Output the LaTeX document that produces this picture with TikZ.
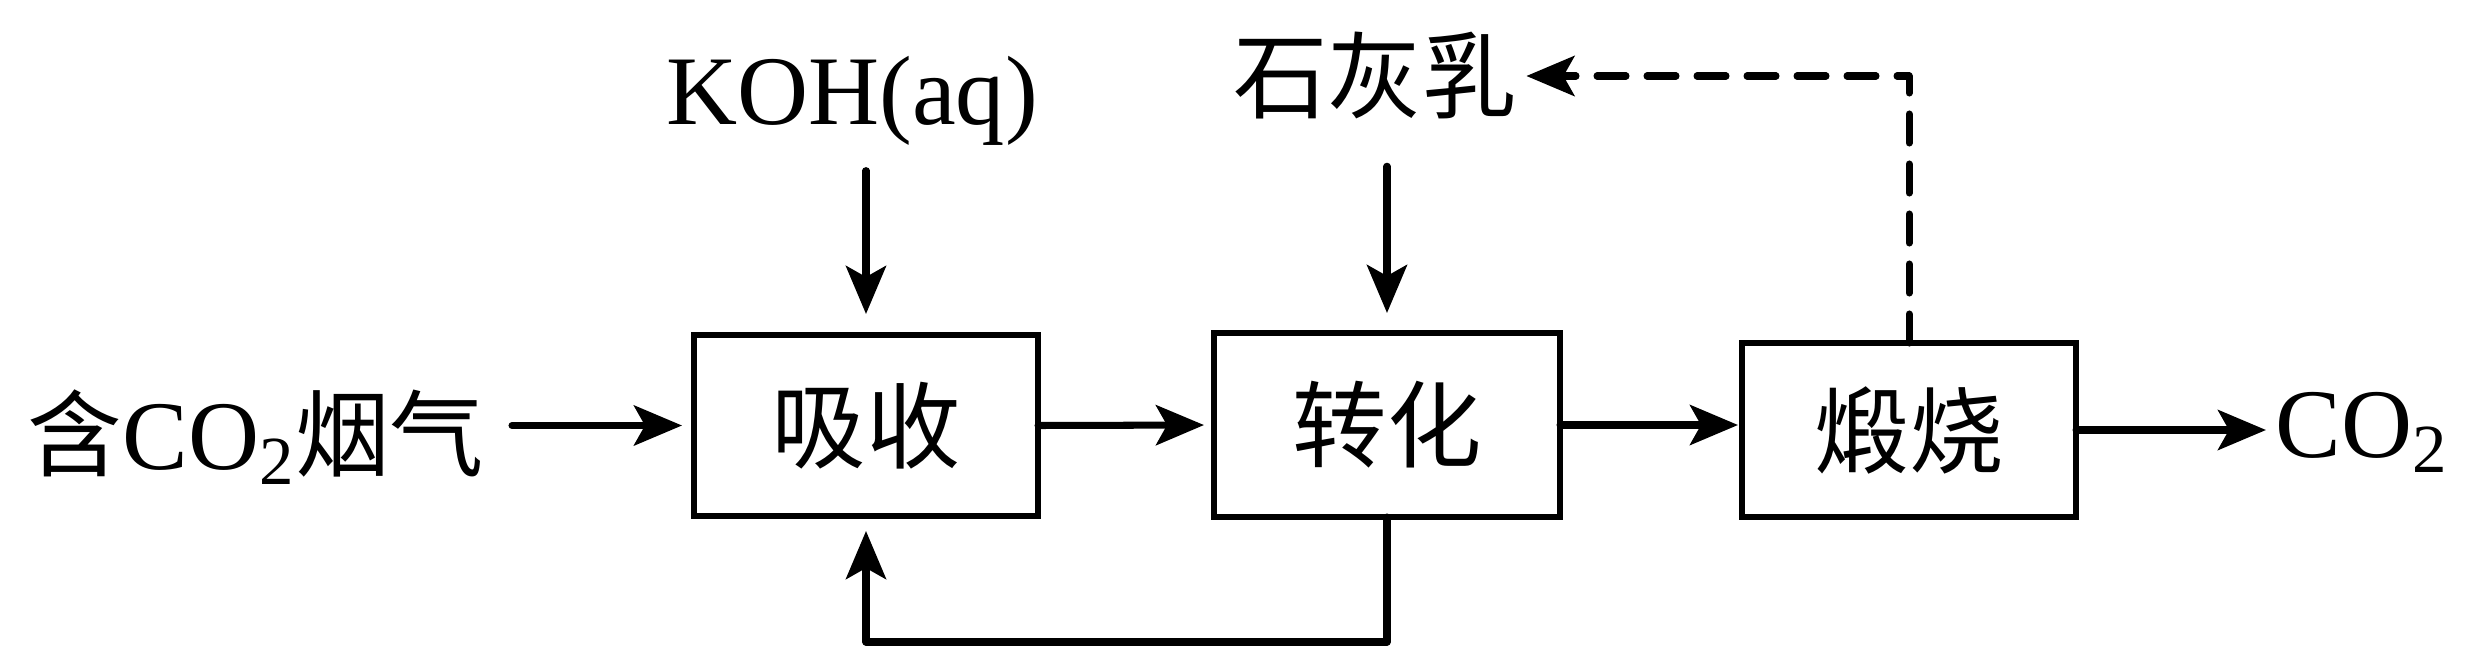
\documentclass[tikz,border=0pt]{standalone}
\usepackage{fontspec}
\setmainfont{Liberation Serif}
\newfontfamily\cjk[Scale=0.96]{Noto Sans CJK SC}
\usetikzlibrary{arrows.meta}

\begin{document}
\begin{tikzpicture}[
    unit/.style={draw,line width=1.9pt,inner sep=0pt,outer sep=0pt,font=\fontsize{28}{32}\selectfont\cjk},
    txt/.style={inner sep=0pt,font=\fontsize{28}{32}\selectfont},
    flow/.style={line width=2pt,line cap=round,line join=round,-{Stealth[length=0.48cm,width=0.40cm,inset=0.11cm]}}
  ]
    \useasboundingbox (0,0) rectangle (24.7,6.6);
    % process units
    \node[unit,minimum width=3.44cm,minimum height=1.81cm] (absorb) at (8.66,2.345) {吸收};
    \node[unit,minimum width=3.46cm,minimum height=1.84cm] (convert) at (13.87,2.35) {转化};
    \node[unit,minimum width=3.34cm,minimum height=1.74cm] (calcine) at (19.09,2.30) {煅烧};
    % feeds and product
    \node[txt,anchor=base east] (flue) at (4.85,1.91) {{\cjk 含}CO\textsubscript{2}{\cjk 烟气}};
    \node[txt,anchor=base] (koh) at (8.52,5.36) {KOH(aq)};
    \node[txt] (lime) at (13.75,5.84) {\cjk 石灰乳};
    \node[txt,anchor=base west] (co2) at (22.75,2.03) {CO\textsubscript{2}};
    % main line
    \draw[flow,shorten <=0.27cm,shorten >=0.12cm] (flue.east |- absorb) -- (absorb.west);
    \draw[flow,shorten >=0.10cm] (absorb.east) -- (convert.west);
    \draw[flow,shorten >=0.04cm] (convert.east) -- (convert.east -| calcine.west);
    \draw[flow,shorten >=0.09cm] (calcine.east) -- (calcine.east -| co2.west);
    % feeds from above
    \draw[flow,shorten <=0.25cm,shorten >=0.21cm] (absorb.north |- koh.south) -- (absorb.north);
    \draw[flow,shorten <=0.46cm,shorten >=0.20cm] (lime.south -| convert.north) -- (convert.north);
    % recycles
    \draw[flow,dash pattern=on 0.29cm off 0.21cm,shorten >=0.09cm] (calcine.north) |- (lime.east);
    \draw[flow,shorten >=0.15cm] (convert.south) -- ++(0,-1.25) -| (absorb.south);
  \end{tikzpicture}
\end{document}
